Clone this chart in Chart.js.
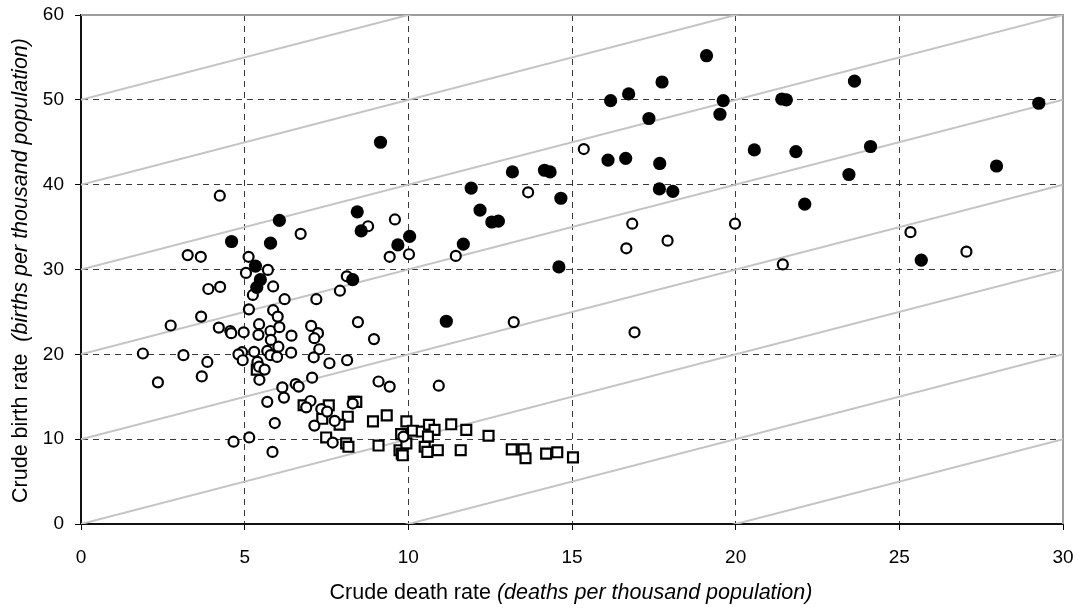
<!DOCTYPE html>
<html>
<head>
<meta charset="utf-8">
<script src="https://cdn.jsdelivr.net/npm/chart.js@4.4.1/dist/chart.umd.min.js"></script>
<style>
  html, body { margin: 0; padding: 0; background: #fff; }
  #wrap { width: 1082px; height: 610px; position: relative; }
</style>
</head>
<body>
<div id="wrap"><canvas id="chart" width="1082" height="610"></canvas></div>
<script>
// ─── Data (crude death rate x, crude birth rate y) ───
const filledDeath = [4.6, 5.79, 6.06, 5.33, 5.48, 5.37, 8.44, 8.56, 8.3, 9.15, 9.68, 10.04, 11.68, 11.16, 11.92, 12.19, 12.55, 12.75, 13.18, 14.16, 14.33, 14.66, 14.6, 16.18, 16.73, 17.75, 19.11, 19.62, 19.52, 17.35, 16.1, 16.64, 17.68, 17.67, 18.08, 20.57, 21.41, 21.55, 21.84, 22.11, 23.63, 24.12, 23.46, 25.67, 27.97, 29.26];
const filledBirth = [33.3, 33.1, 35.8, 30.4, 28.8, 27.9, 36.8, 34.55, 28.8, 45.0, 32.9, 33.9, 33.0, 23.9, 39.6, 37.0, 35.6, 35.7, 41.5, 41.7, 41.5, 38.4, 30.3, 49.9, 50.7, 52.1, 55.2, 49.9, 48.3, 47.8, 42.9, 43.1, 42.5, 39.5, 39.2, 44.1, 50.1, 50.0, 43.9, 37.7, 52.2, 44.5, 41.2, 31.1, 42.2, 49.6];

const openDeath = [4.24, 6.71, 3.26, 3.66, 5.12, 5.71, 5.04, 5.87, 3.89, 4.25, 5.25, 6.22, 7.19, 5.13, 5.87, 6.01, 2.74, 3.67, 4.21, 4.56, 4.59, 4.97, 5.44, 5.42, 5.79, 6.06, 6.43, 5.8, 6.03, 5.69, 5.79, 5.99, 6.42, 5.29, 4.92, 4.81, 4.94, 1.89, 3.13, 3.86, 3.69, 2.35, 5.39, 5.44, 5.61, 5.45, 7.03, 7.24, 7.13, 7.28, 7.11, 7.59, 7.06, 6.56, 6.65, 6.15, 6.2, 5.69, 5.92, 4.66, 5.14, 5.85, 7.01, 6.88, 7.13, 7.34, 7.52, 7.75, 7.69, 8.3, 8.13, 9.09, 9.43, 10.93, 9.85, 8.12, 7.91, 8.46, 8.95, 8.77, 9.59, 9.43, 10.02, 11.45, 13.66, 13.22, 15.36, 16.84, 19.98, 17.92, 16.66, 21.44, 16.91, 25.34, 27.05];
const openBirth = [38.7, 34.2, 31.7, 31.5, 31.5, 29.95, 29.6, 28.0, 27.7, 27.95, 27.0, 26.5, 26.5, 25.3, 25.2, 24.45, 23.4, 24.45, 23.15, 22.75, 22.5, 22.6, 23.55, 22.3, 22.75, 23.2, 22.2, 21.7, 20.9, 20.4, 19.9, 19.7, 20.2, 20.3, 20.25, 20.0, 19.3, 20.1, 19.9, 19.1, 17.4, 16.7, 19.1, 18.55, 18.2, 17.0, 23.35, 22.5, 21.9, 20.6, 19.65, 18.95, 17.25, 16.5, 16.2, 16.1, 14.9, 14.4, 11.9, 9.7, 10.2, 8.5, 14.5, 13.75, 11.6, 13.55, 13.25, 12.15, 9.6, 14.2, 19.3, 16.8, 16.2, 16.3, 10.3, 29.2, 27.5, 23.8, 21.8, 35.1, 35.9, 31.5, 31.8, 31.6, 39.1, 23.8, 44.2, 35.4, 35.4, 33.4, 32.5, 30.6, 22.6, 34.4, 32.1];

const squareDeath = [5.37, 6.8, 7.57, 8.15, 7.37, 7.9, 7.49, 8.1, 8.17, 8.33, 8.41, 8.92, 9.34, 9.09, 9.94, 9.78, 9.73, 9.8, 9.94, 10.14, 10.41, 10.63, 10.8, 10.6, 10.5, 10.9, 10.58, 11.31, 11.77, 11.6, 12.45, 13.16, 13.52, 13.58, 14.21, 14.55, 15.03, 9.83];
const squareBirth = [18.2, 14.0, 14.0, 12.65, 12.4, 11.7, 10.2, 9.5, 9.1, 14.4, 14.4, 12.1, 12.8, 9.25, 12.1, 10.6, 8.7, 8.3, 9.5, 11.0, 10.9, 11.7, 11.1, 10.3, 9.1, 8.7, 8.5, 11.75, 11.1, 8.7, 10.4, 8.8, 8.8, 7.75, 8.3, 8.45, 7.85, 8.1];

// grey guide lines: birth = death + offset
const guideOffsets = [-20, -10, 0, 10, 20, 30, 40, 50];

const xTitle = ['Crude death rate ', '(deaths per thousand population)'];
const yTitle = ['Crude birth rate  ', '(births per thousand population)'];

const FONT = '"Liberation Sans", Arial, Helvetica, sans-serif';

function zip(xs, ys) {
    return xs.map((x, i) => ({ x: x, y: ys[i] }));
}

// ─── Guide line datasets ───
const guideSets = guideOffsets.map(c => ({
    type: 'line',
    data: [{ x: 0, y: c }, { x: 30, y: 30 + c }],
    borderColor: '#c4c4c4',
    borderWidth: 2,
    pointRadius: 0,
    fill: false,
    order: 10
}));

// ─── Frame + axis titles ───
function drawTitle(ctx, parts, cx, cy) {
    const normal = '21.5px ' + FONT;
    const italic = 'italic 21.5px ' + FONT;
    ctx.font = normal;
    const w1 = ctx.measureText(parts[0]).width;
    ctx.font = italic;
    const w2 = ctx.measureText(parts[1]).width;
    const x0 = cx - (w1 + w2) / 2;
    ctx.font = normal;
    ctx.fillText(parts[0], x0, cy);
    ctx.font = italic;
    ctx.fillText(parts[1], x0 + w1, cy);
}

const framePlugin = {
    id: 'frame',
    beforeDatasetsDraw(chart) {
        const { ctx, chartArea: a } = chart;
        ctx.save();
        ctx.strokeStyle = '#9c9c9c';
        ctx.lineWidth = 2;
        ctx.beginPath();
        ctx.moveTo(a.left, a.top);
        ctx.lineTo(a.right, a.top);
        ctx.lineTo(a.right, a.bottom);
        ctx.stroke();
        ctx.restore();
    },
    afterDraw(chart) {
        const { ctx, chartArea: a } = chart;
        ctx.save();
        ctx.fillStyle = '#000';
        ctx.textBaseline = 'middle';
        drawTitle(ctx, xTitle, (a.left + a.right) / 2 - 1, 593);
        ctx.translate(21, (a.top + a.bottom) / 2 + 1);
        ctx.rotate(-Math.PI / 2);
        drawTitle(ctx, yTitle, 0, 0);
        ctx.restore();
    }
};

const gridColor = (max) => (c) => (c.tick && c.tick.value === max ? 'rgba(0,0,0,0)' : '#3a3a3a');

new Chart(document.getElementById('chart'), {
    type: 'scatter',
    data: {
        datasets: [
            {
                data: zip(filledDeath, filledBirth),
                pointStyle: 'circle',
                pointRadius: 6.6,
                backgroundColor: '#000',
                borderColor: '#000',
                borderWidth: 0,
                order: 1
            },
            {
                data: zip(openDeath, openBirth),
                pointStyle: 'circle',
                pointRadius: 5,
                backgroundColor: '#fff',
                borderColor: '#000',
                borderWidth: 2.2,
                order: 2
            },
            {
                data: zip(squareDeath, squareBirth),
                pointStyle: 'rect',
                pointRadius: 7,
                backgroundColor: '#fff',
                borderColor: '#000',
                borderWidth: 2.2,
                order: 3
            },
            ...guideSets
        ]
    },
    options: {
        responsive: false,
        animation: false,
        events: [],
        layout: { padding: { left: 0, top: 15, right: 19, bottom: 0 } },
        plugins: { legend: { display: false }, tooltip: { enabled: false } },
        scales: {
            x: {
                type: 'linear',
                min: 0,
                max: 30,
                afterFit(s) { s.height = 86; s.paddingLeft = 0; s.paddingRight = 0; },
                ticks: { stepSize: 5, color: '#000', font: { family: FONT, size: 19 }, padding: 16 },
                grid: { color: gridColor(30), lineWidth: 1, tickLength: 6, tickColor: '#000', tickWidth: 1 },
                border: { color: '#111', width: 2, dash: [6, 5] }
            },
            y: {
                type: 'linear',
                min: 0,
                max: 60,
                afterFit(s) { s.width = 81; s.paddingTop = 0; s.paddingBottom = 0; },
                ticks: { stepSize: 10, color: '#000', font: { family: FONT, size: 19 }, padding: 11 },
                grid: { color: gridColor(60), lineWidth: 1, tickLength: 6, tickColor: '#000', tickWidth: 1 },
                border: { color: '#111', width: 2, dash: [6, 5] }
            }
        }
    },
    plugins: [framePlugin]
});
</script>
</body>
</html>
